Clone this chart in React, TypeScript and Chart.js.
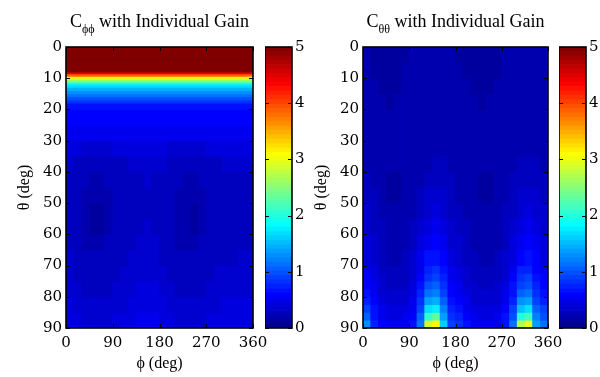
import React, { useEffect, useRef } from 'react';
import { Chart, registerables } from 'chart.js';

Chart.register(...registerables);

// ---------- data ----------
const phiCenters = [7.5, 22.5, 37.5, 52.5, 67.5, 82.5, 97.5, 112.5, 127.5, 142.5, 157.5, 172.5,
  187.5, 202.5, 217.5, 232.5, 247.5, 262.5, 277.5, 292.5, 307.5, 322.5, 337.5, 352.5];
const phiTicks = [0, 90, 180, 270, 360];
const thetaTicks = [0, 10, 20, 30, 40, 50, 60, 70, 80, 90];
const colorbarTicks = [0, 1, 2, 3, 4, 5];

// C_phiphi: phi-independent band near the pole
const cPhiBandEdges = [0, 2, 4, 6, 8, 8.5, 9, 9.5, 10, 10.5, 11, 11.5, 12, 12.5, 13, 14, 15, 16, 17, 18, 19, 20];
const cPhiBandValues = [9.5, 8.0, 6.6, 5.3, 4.6, 4.0, 3.6, 3.2, 2.85, 2.5, 2.2, 1.95, 1.75, 1.62, 1.48, 1.3, 1.12, 0.98, 0.82, 0.7, 0.64];

// C_phiphi: grid for theta 20..90
const cPhiGridEdges = [20, 25, 30, 35, 40, 45, 50, 55, 60, 65, 70, 75, 80, 85, 90];
const cPhiGrid = [
  [0.61, 0.60, 0.59, 0.58, 0.58, 0.59, 0.60, 0.61, 0.62, 0.62, 0.62, 0.61, 0.60, 0.59, 0.58, 0.58, 0.58, 0.59, 0.60, 0.61, 0.62, 0.62, 0.62, 0.61],
  [0.52, 0.51, 0.50, 0.49, 0.49, 0.50, 0.51, 0.52, 0.53, 0.54, 0.54, 0.53, 0.52, 0.50, 0.49, 0.49, 0.49, 0.50, 0.51, 0.52, 0.53, 0.54, 0.54, 0.53],
  [0.42, 0.40, 0.39, 0.37, 0.37, 0.38, 0.40, 0.41, 0.42, 0.43, 0.43, 0.42, 0.41, 0.39, 0.37, 0.37, 0.37, 0.39, 0.40, 0.41, 0.42, 0.43, 0.43, 0.42],
  [0.33, 0.30, 0.29, 0.28, 0.28, 0.29, 0.30, 0.31, 0.32, 0.35, 0.36, 0.35, 0.32, 0.30, 0.29, 0.28, 0.28, 0.29, 0.30, 0.31, 0.33, 0.34, 0.35, 0.34],
  [0.29, 0.26, 0.24, 0.23, 0.23, 0.24, 0.25, 0.26, 0.28, 0.30, 0.32, 0.31, 0.29, 0.26, 0.24, 0.23, 0.23, 0.24, 0.25, 0.26, 0.28, 0.29, 0.31, 0.30],
  [0.26, 0.24, 0.19, 0.17, 0.17, 0.23, 0.24, 0.25, 0.26, 0.27, 0.28, 0.28, 0.26, 0.24, 0.23, 0.17, 0.17, 0.23, 0.24, 0.25, 0.26, 0.27, 0.27, 0.27],
  [0.26, 0.24, 0.18, 0.15, 0.15, 0.23, 0.25, 0.26, 0.27, 0.28, 0.30, 0.28, 0.26, 0.24, 0.23, 0.16, 0.15, 0.23, 0.24, 0.25, 0.26, 0.27, 0.27, 0.27],
  [0.27, 0.24, 0.18, 0.15, 0.15, 0.23, 0.25, 0.26, 0.28, 0.30, 0.33, 0.31, 0.27, 0.24, 0.23, 0.16, 0.15, 0.23, 0.24, 0.25, 0.26, 0.27, 0.28, 0.28],
  [0.28, 0.25, 0.23, 0.18, 0.18, 0.24, 0.25, 0.27, 0.30, 0.33, 0.34, 0.33, 0.29, 0.25, 0.23, 0.18, 0.18, 0.24, 0.25, 0.26, 0.27, 0.28, 0.29, 0.29],
  [0.32, 0.27, 0.25, 0.24, 0.24, 0.25, 0.27, 0.30, 0.33, 0.35, 0.36, 0.35, 0.31, 0.27, 0.25, 0.24, 0.24, 0.25, 0.27, 0.28, 0.30, 0.31, 0.32, 0.32],
  [0.35, 0.31, 0.26, 0.25, 0.25, 0.26, 0.30, 0.33, 0.35, 0.37, 0.38, 0.37, 0.34, 0.30, 0.26, 0.25, 0.25, 0.26, 0.30, 0.32, 0.33, 0.34, 0.34, 0.35],
  [0.38, 0.34, 0.29, 0.27, 0.27, 0.29, 0.33, 0.35, 0.38, 0.40, 0.41, 0.40, 0.37, 0.33, 0.29, 0.27, 0.27, 0.29, 0.33, 0.35, 0.36, 0.37, 0.37, 0.38],
  [0.42, 0.39, 0.35, 0.33, 0.33, 0.35, 0.37, 0.39, 0.42, 0.44, 0.45, 0.44, 0.41, 0.37, 0.35, 0.33, 0.33, 0.35, 0.37, 0.39, 0.40, 0.41, 0.41, 0.42],
  [0.46, 0.43, 0.39, 0.37, 0.37, 0.39, 0.41, 0.43, 0.46, 0.48, 0.49, 0.48, 0.45, 0.41, 0.39, 0.37, 0.37, 0.39, 0.41, 0.43, 0.44, 0.45, 0.45, 0.46],
];

// C_thetatheta: grid for theta 0..90
const cThetaGridEdges = [0, 5, 10, 15, 20, 25, 30, 35, 40, 45, 50, 55, 60, 65, 70, 72.5, 75, 77.5, 80, 82.5, 85, 87.5, 90];
const cThetaGrid = [
  [0.17, 0.13, 0.11, 0.10, 0.11, 0.14, 0.19, 0.20, 0.20, 0.20, 0.20, 0.19, 0.15, 0.12, 0.11, 0.10, 0.11, 0.14, 0.19, 0.20, 0.20, 0.20, 0.20, 0.19],
  [0.19, 0.15, 0.12, 0.11, 0.12, 0.17, 0.19, 0.20, 0.20, 0.20, 0.20, 0.19, 0.18, 0.15, 0.12, 0.11, 0.12, 0.15, 0.18, 0.20, 0.20, 0.20, 0.20, 0.19],
  [0.19, 0.17, 0.14, 0.13, 0.14, 0.17, 0.19, 0.20, 0.20, 0.20, 0.20, 0.19, 0.19, 0.17, 0.14, 0.13, 0.14, 0.17, 0.19, 0.20, 0.20, 0.20, 0.20, 0.19],
  [0.19, 0.18, 0.17, 0.15, 0.16, 0.18, 0.19, 0.20, 0.20, 0.20, 0.20, 0.19, 0.19, 0.18, 0.17, 0.15, 0.16, 0.18, 0.19, 0.20, 0.20, 0.20, 0.20, 0.19],
  [0.20, 0.19, 0.18, 0.17, 0.17, 0.18, 0.19, 0.20, 0.21, 0.21, 0.21, 0.20, 0.19, 0.18, 0.17, 0.17, 0.18, 0.19, 0.20, 0.21, 0.21, 0.21, 0.21, 0.20],
  [0.20, 0.19, 0.18, 0.17, 0.17, 0.18, 0.19, 0.20, 0.21, 0.22, 0.21, 0.20, 0.19, 0.18, 0.17, 0.17, 0.18, 0.19, 0.20, 0.21, 0.22, 0.22, 0.21, 0.20],
  [0.21, 0.19, 0.18, 0.17, 0.17, 0.18, 0.19, 0.21, 0.22, 0.23, 0.22, 0.21, 0.19, 0.18, 0.17, 0.17, 0.18, 0.19, 0.21, 0.22, 0.23, 0.23, 0.22, 0.21],
  [0.22, 0.19, 0.17, 0.16, 0.16, 0.17, 0.19, 0.21, 0.23, 0.25, 0.24, 0.21, 0.19, 0.17, 0.16, 0.16, 0.17, 0.19, 0.21, 0.23, 0.24, 0.25, 0.24, 0.22],
  [0.25, 0.20, 0.16, 0.15, 0.15, 0.16, 0.19, 0.22, 0.26, 0.28, 0.27, 0.24, 0.20, 0.17, 0.16, 0.15, 0.15, 0.16, 0.19, 0.24, 0.26, 0.28, 0.27, 0.26],
  [0.29, 0.24, 0.19, 0.15, 0.14, 0.16, 0.21, 0.27, 0.32, 0.35, 0.32, 0.27, 0.23, 0.19, 0.16, 0.15, 0.14, 0.16, 0.21, 0.27, 0.32, 0.35, 0.33, 0.30],
  [0.32, 0.27, 0.21, 0.18, 0.17, 0.18, 0.23, 0.31, 0.38, 0.41, 0.37, 0.30, 0.26, 0.22, 0.19, 0.17, 0.17, 0.19, 0.24, 0.31, 0.37, 0.40, 0.37, 0.33],
  [0.36, 0.30, 0.24, 0.20, 0.19, 0.20, 0.26, 0.35, 0.45, 0.49, 0.43, 0.34, 0.30, 0.25, 0.21, 0.19, 0.19, 0.21, 0.27, 0.35, 0.44, 0.47, 0.42, 0.37],
  [0.40, 0.33, 0.26, 0.22, 0.21, 0.22, 0.29, 0.41, 0.53, 0.57, 0.50, 0.38, 0.33, 0.27, 0.23, 0.21, 0.21, 0.23, 0.30, 0.40, 0.52, 0.55, 0.48, 0.41],
  [0.45, 0.37, 0.28, 0.23, 0.22, 0.24, 0.32, 0.47, 0.64, 0.69, 0.58, 0.43, 0.37, 0.30, 0.25, 0.22, 0.22, 0.25, 0.33, 0.46, 0.62, 0.66, 0.55, 0.46],
  [0.50, 0.41, 0.31, 0.25, 0.24, 0.26, 0.35, 0.53, 0.74, 0.80, 0.66, 0.48, 0.41, 0.33, 0.27, 0.24, 0.24, 0.27, 0.36, 0.52, 0.72, 0.76, 0.62, 0.51],
  [0.55, 0.44, 0.33, 0.27, 0.26, 0.28, 0.38, 0.58, 0.84, 0.91, 0.73, 0.52, 0.45, 0.36, 0.29, 0.26, 0.26, 0.29, 0.39, 0.57, 0.81, 0.86, 0.68, 0.56],
  [0.61, 0.48, 0.36, 0.30, 0.29, 0.31, 0.41, 0.64, 0.97, 1.05, 0.82, 0.57, 0.49, 0.39, 0.32, 0.29, 0.29, 0.32, 0.43, 0.63, 0.93, 0.98, 0.75, 0.62],
  [0.68, 0.52, 0.39, 0.33, 0.32, 0.34, 0.45, 0.71, 1.13, 1.22, 0.92, 0.62, 0.54, 0.43, 0.35, 0.32, 0.32, 0.35, 0.47, 0.70, 1.08, 1.14, 0.83, 0.69],
  [0.77, 0.57, 0.43, 0.37, 0.36, 0.38, 0.49, 0.80, 1.35, 1.45, 1.04, 0.68, 0.60, 0.47, 0.39, 0.36, 0.36, 0.39, 0.52, 0.78, 1.28, 1.35, 0.93, 0.78],
  [0.88, 0.63, 0.47, 0.41, 0.40, 0.42, 0.54, 0.90, 1.65, 1.78, 1.19, 0.75, 0.67, 0.52, 0.43, 0.40, 0.40, 0.43, 0.57, 0.88, 1.55, 1.65, 1.05, 0.88],
  [1.02, 0.70, 0.52, 0.45, 0.44, 0.47, 0.60, 1.02, 2.10, 2.30, 1.38, 0.83, 0.75, 0.57, 0.48, 0.44, 0.44, 0.48, 0.63, 0.99, 1.98, 2.15, 1.20, 1.00],
  [1.25, 0.78, 0.57, 0.50, 0.49, 0.52, 0.66, 1.15, 2.85, 3.05, 1.60, 0.92, 0.84, 0.63, 0.53, 0.49, 0.49, 0.53, 0.70, 1.12, 2.70, 2.95, 1.38, 1.15],
];

// ---------- colormap (MATLAB jet, 64 levels) ----------
const CMIN = 0;
const CMAX = 5;
const NCOLORS = 64;
function buildJet(n: number): string[] {
  const m = Math.ceil(n / 4);
  const u: number[] = [];
  for (let i = 1; i <= m; i++) u.push(i / m);
  for (let i = 0; i < m - 1; i++) u.push(1);
  for (let i = m; i >= 1; i--) u.push(i / m);
  const g0 = Math.ceil(m / 2) - (n % 4 === 1 ? 1 : 0);
  const J = Array.from({ length: n }, () => [0, 0, 0]);
  for (let k = 0; k < u.length; k++) {
    const g = g0 + k + 1;
    const r = g + m;
    const b = g - m;
    if (r >= 1 && r <= n) J[r - 1][0] = u[k];
    if (g >= 1 && g <= n) J[g - 1][1] = u[k];
    if (b >= 1 && b <= n) J[b - 1][2] = u[k];
  }
  return J.map(([r, g, b]) => `rgb(${Math.round(r * 255)},${Math.round(g * 255)},${Math.round(b * 255)})`);
}
const JET = buildJet(NCOLORS);
function colorFor(v: number): string {
  let i = Math.floor(((v - CMIN) / (CMAX - CMIN)) * NCOLORS);
  i = Math.max(0, Math.min(NCOLORS - 1, i));
  return JET[i];
}

// ---------- shared styling ----------
const FONT = '"Liberation Serif", "Times New Roman", serif';
const TICK_FONT = { size: 15, family: '"DejaVu Serif", serif' };
const H = 377;
const AREA_TOP = 47;
const AREA_BOTTOM = 328;

Chart.defaults.font.family = FONT;
Chart.defaults.color = '#000';

const framePlugin = {
  id: 'frame',
  beforeDatasetsDraw(chart: any, _a: any, opts: any) {
    if (!opts.fill) return;
    const { ctx, chartArea: a } = chart;
    ctx.save();
    ctx.fillStyle = opts.fill;
    ctx.fillRect(a.left, a.top, a.right - a.left, a.bottom - a.top);
    ctx.restore();
  },
  afterDatasetsDraw(chart: any, _a: any, opts: any) {
    const { ctx, chartArea: a } = chart;
    const len = 4;
    ctx.save();
    ctx.strokeStyle = '#000';
    ctx.lineWidth = 1;
    ctx.beginPath();
    const xs = opts.xId ? chart.scales[opts.xId] : null;
    if (xs) {
      xs.ticks.forEach((t: any) => {
        const px = Math.round(xs.getPixelForValue(t.value)) + 0.5;
        ctx.moveTo(px, a.bottom);
        ctx.lineTo(px, a.bottom - len);
        ctx.moveTo(px, a.top);
        ctx.lineTo(px, a.top + len);
      });
    }
    const ys = opts.yId ? chart.scales[opts.yId] : null;
    if (ys) {
      ys.ticks.forEach((t: any) => {
        const py = Math.round(ys.getPixelForValue(t.value)) + 0.5;
        ctx.moveTo(a.left, py);
        ctx.lineTo(a.left + len, py);
        ctx.moveTo(a.right, py);
        ctx.lineTo(a.right - len, py);
      });
    }
    ctx.stroke();
    ctx.lineWidth = 1.6;
    ctx.strokeRect(a.left, a.top, a.right - a.left, a.bottom - a.top);
    ctx.restore();
  },
};

const subTitlePlugin = {
  id: 'subTitle',
  afterDraw(chart: any, _a: any, opts: any) {
    if (!opts.main) return;
    const { ctx, chartArea: a } = chart;
    const big = `18px ${FONT}`;
    const small = `12px ${FONT}`;
    ctx.save();
    ctx.fillStyle = '#000';
    ctx.textBaseline = 'alphabetic';
    ctx.textAlign = 'left';
    ctx.font = big;
    const w1 = ctx.measureText(opts.main).width;
    const w3 = ctx.measureText(opts.rest).width;
    ctx.font = small;
    const w2 = ctx.measureText(opts.sub).width;
    const total = w1 + w2 + w3;
    let x = (a.left + a.right) / 2 - total / 2;
    const base = 27;
    ctx.font = big;
    ctx.fillText(opts.main, x, base);
    x += w1;
    ctx.font = small;
    ctx.fillText(opts.sub, x, base + 6);
    x += w2;
    ctx.font = big;
    ctx.fillText(opts.rest, x, base);
    ctx.restore();
  },
};

function zeroPad(scale: any) {
  scale.paddingLeft = 0;
  scale.paddingRight = 0;
  scale.paddingTop = 0;
  scale.paddingBottom = 0;
}

const barCommon = {
  borderWidth: 0,
  categoryPercentage: 1,
  barPercentage: 1,
  grouped: false,
};

interface HeatProps {
  left: number;
  width: number;
  areaRight: number;
  title: [string, string, string];
  bandEdges?: number[];
  bandValues?: number[];
  gridEdges: number[];
  grid: number[][];
}

function Heatmap(p: HeatProps) {
  const ref = useRef<HTMLCanvasElement>(null);
  useEffect(() => {
    const datasets: any[] = [];
    if (p.bandEdges && p.bandValues) {
      p.bandValues.forEach((v, k) => {
        datasets.push({
          ...barCommon,
          xAxisID: 'xb',
          yAxisID: 'y',
          data: [[p.bandEdges![k], p.bandEdges![k + 1]]],
          backgroundColor: [colorFor(v)],
        });
      });
    }
    p.grid.forEach((row, r) => {
      datasets.push({
        ...barCommon,
        xAxisID: 'x',
        yAxisID: 'y',
        data: row.map(() => [p.gridEdges[r], p.gridEdges[r + 1]]),
        backgroundColor: row.map((v) => colorFor(v)),
      });
    });
    const chart = new Chart(ref.current!, {
      type: 'bar',
      data: { labels: phiCenters.map(String), datasets },
      plugins: [framePlugin, subTitlePlugin],
      options: {
        responsive: false,
        animation: false,
        events: [],
        layout: { padding: { top: AREA_TOP, right: p.left + p.width - p.areaRight, left: 0, bottom: 0 } },
        plugins: {
          legend: { display: false },
          tooltip: { enabled: false },
          frame: { xId: 'xl', yId: 'y', fill: colorFor(0.3) },
          subTitle: { main: p.title[0], sub: p.title[1], rest: p.title[2] },
        } as any,
        scales: {
          x: { type: 'category', display: false, offset: true },
          xb: { type: 'category', axis: 'x', labels: ['band'], display: false, offset: true },
          xl: {
            type: 'linear',
            axis: 'x',
            position: 'bottom',
            min: 0,
            max: 360,
            offset: false,
            grid: { display: false, drawTicks: false, offset: false },
            border: { display: false },
            ticks: { font: TICK_FONT, color: '#000', padding: 6, maxRotation: 0, autoSkip: false },
            afterBuildTicks: (s: any) => { s.ticks = phiTicks.map((v) => ({ value: v })); },
            afterFit: (s: any) => { s.height = H - AREA_BOTTOM; zeroPad(s); },
            title: { display: true, text: 'ϕ (deg)', font: { size: 16, family: FONT }, color: '#000', padding: { top: 0, bottom: 4 } },
          },
          y: {
            type: 'linear',
            position: 'left',
            min: 0,
            max: 90,
            reverse: true,
            grid: { display: false, drawTicks: false },
            border: { display: false },
            ticks: { font: TICK_FONT, color: '#000', padding: 4, autoSkip: false },
            afterBuildTicks: (s: any) => { s.ticks = thetaTicks.map((v) => ({ value: v })); },
            afterFit: (s: any) => { s.width = 66; zeroPad(s); },
            title: { display: true, text: 'θ (deg)', font: { size: 16, family: FONT }, color: '#000', padding: { top: 15, bottom: 0 } },
          },
        } as any,
      },
    } as any);
    return () => chart.destroy();
  }, []);
  return <canvas ref={ref} width={p.width} height={H} style={{ position: 'absolute', left: p.left, top: 0 }} />;
}

function Colorbar(p: { left: number; width: number; barWidth: number }) {
  const ref = useRef<HTMLCanvasElement>(null);
  useEffect(() => {
    const datasets: any[] = JET.map((c, k) => ({
      ...barCommon,
      data: [[CMIN + (k * (CMAX - CMIN)) / NCOLORS, CMIN + ((k + 1) * (CMAX - CMIN)) / NCOLORS]],
      backgroundColor: [c],
    }));
    const chart = new Chart(ref.current!, {
      type: 'bar',
      data: { labels: ['cbar'], datasets },
      plugins: [framePlugin],
      options: {
        responsive: false,
        animation: false,
        events: [],
        layout: { padding: { top: AREA_TOP, bottom: H - AREA_BOTTOM, left: 0, right: 0 } },
        plugins: {
          legend: { display: false },
          tooltip: { enabled: false },
          frame: { yId: 'y' },
        } as any,
        scales: {
          x: { type: 'category', display: false, offset: true },
          y: {
            type: 'linear',
            position: 'right',
            min: CMIN,
            max: CMAX,
            grid: { display: false, drawTicks: false },
            border: { display: false },
            ticks: { font: TICK_FONT, color: '#000', padding: 3, autoSkip: false },
            afterBuildTicks: (s: any) => { s.ticks = colorbarTicks.map((v) => ({ value: v })); },
            afterFit: (s: any) => { s.width = p.width - p.barWidth; zeroPad(s); },
          },
        } as any,
      },
    } as any);
    return () => chart.destroy();
  }, []);
  return <canvas ref={ref} width={p.width} height={H} style={{ position: 'absolute', left: p.left, top: 0 }} />;
}

export default function App() {
  return (
    <div style={{ position: 'absolute', left: 0, top: 0, width: 600, height: H, background: '#fff', overflow: 'hidden' }}>
      <Colorbar left={265} width={55} barWidth={27} />
      <Colorbar left={559} width={41} barWidth={27} />
      <Heatmap
        left={0}
        width={275}
        areaRight={253}
        title={['C', 'ϕϕ', ' with Individual Gain']}
        bandEdges={cPhiBandEdges}
        bandValues={cPhiBandValues}
        gridEdges={cPhiGridEdges}
        grid={cPhiGrid}
      />
      <Heatmap
        left={297}
        width={272}
        areaRight={548}
        title={['C', 'θθ', ' with Individual Gain']}
        gridEdges={cThetaGridEdges}
        grid={cThetaGrid}
      />
    </div>
  );
}
